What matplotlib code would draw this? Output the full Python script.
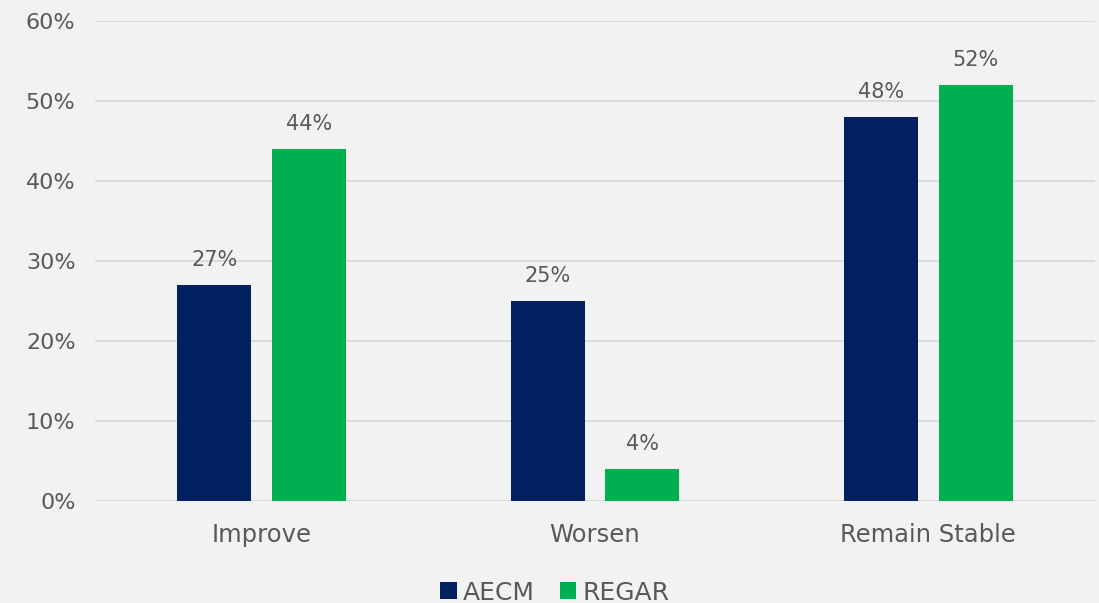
import matplotlib
matplotlib.use("Agg")
import matplotlib.pyplot as plt
import numpy as np
from matplotlib.ticker import PercentFormatter

categories = ["Improve", "Worsen", "Remain Stable"]
aecm = [27, 25, 48]
regar = [44, 4, 52]
series_names = ["AECM", "REGAR"]
yticks = [0, 10, 20, 30, 40, 50, 60]

navy = "#002060"
green = "#00b050"
text_col = "#595959"
bg = "#f2f2f2"
grid_col = "#d9d9d9"

plt.rcParams["font.family"] = ["DejaVu Sans"]

fig = plt.figure(figsize=(10.99, 6.03), dpi=100, facecolor=bg)
ax = fig.add_axes([0.0864, 0.1692, 0.91, 0.796])
ax.set_facecolor(bg)

x = np.arange(len(categories))
w = 0.222
off = 0.142
b1 = ax.bar(x - off, aecm, w, color=navy, label=series_names[0], zorder=3)
b2 = ax.bar(x + off, regar, w, color=green, label=series_names[1], zorder=3)

for bars, vals in ((b1, aecm), (b2, regar)):
    for r, v in zip(bars, vals):
        ax.text(r.get_x() + r.get_width() / 2, v + 1.9, f"{v}%", ha="center",
                va="bottom", fontsize=15, color=text_col)

ax.set_xlim(-0.5, 2.5)
ax.set_ylim(0, 60)
ax.set_yticks(yticks)
ax.yaxis.set_major_formatter(PercentFormatter(decimals=0))
ax.set_xticks(x)
ax.set_xticklabels(categories)
ax.tick_params(axis="y", length=0, labelsize=16, colors=text_col, pad=14)
ax.tick_params(axis="x", length=0, labelsize=17.5, colors=text_col, pad=16)
ax.grid(axis="y", color=grid_col, linewidth=1.3, zorder=0)
for s in ax.spines.values():
    s.set_visible(False)

leg = fig.legend(handles=[b1, b2], labels=series_names, loc="lower center",
                 bbox_to_anchor=(0.505, -0.04), ncol=2, frameon=False,
                 fontsize=18, handlelength=0.65, handleheight=0.65,
                 handletextpad=0.25, columnspacing=1.0)
for t in leg.get_texts():
    t.set_color(text_col)

fig.savefig("out.png", dpi=100, facecolor=bg)
